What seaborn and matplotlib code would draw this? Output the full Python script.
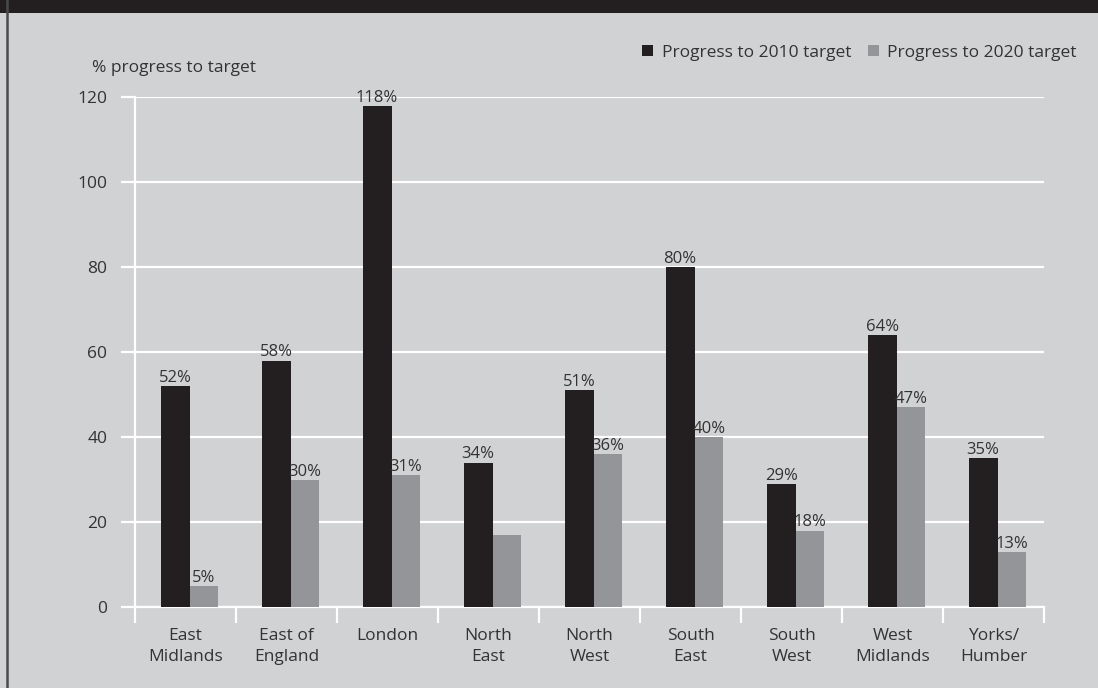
import matplotlib
matplotlib.use("Agg")
import matplotlib.pyplot as plt
from matplotlib.patches import Rectangle
from matplotlib.lines import Line2D
import pandas as pd
import seaborn as sns

regions = ["East\nMidlands", "East of\nEngland", "London", "North\nEast", "North\nWest",
           "South\nEast", "South\nWest", "West\nMidlands", "Yorks/\nHumber"]
progress_2010 = [52, 58, 118, 34, 51, 80, 29, 64, 35]
progress_2020 = [5, 30, 31, 17, 36, 40, 18, 47, 13]
# North East 2020 value is shown without a label
show_2020_label = [True, True, True, False, True, True, True, True, True]
series_names = ["Progress to 2010 target", "Progress to 2020 target"]
y_ticks = [0, 20, 40, 60, 80, 100, 120]

BG = "#d1d2d4"
DARK = "#231f20"
GREY = "#939598"
TEXT = "#333333"
FS = 12.5

sns.set_theme(style="white")
plt.rcParams["font.family"] = ["Open Sans", "DejaVu Sans"]

df = pd.DataFrame({
    "region": regions * 2,
    "value": progress_2010 + progress_2020,
    "series": [series_names[0]] * len(regions) + [series_names[1]] * len(regions),
})

fig = plt.figure(figsize=(10.98, 6.88), dpi=100)
fig.patch.set_facecolor(BG)
W, H = 1098, 688

# top band and left rule
fig.add_artist(Rectangle((0, 1 - 13 / H), 1, 13 / H, transform=fig.transFigure,
                         facecolor=DARK, edgecolor="none", zorder=5))
fig.add_artist(Line2D([6.5 / W, 6.5 / W], [0, 1], transform=fig.transFigure,
                      color="#4a4a4a", linewidth=1.8, zorder=5))

ax = fig.add_axes([135 / W, 81 / H, (1044 - 135) / W, (607 - 97) / H])
ax.set_facecolor(BG)

sns.barplot(data=df, x="region", y="value", hue="series",
            palette=[DARK, GREY], width=0.57, gap=0, saturation=1,
            legend=False, ax=ax, zorder=3, edgecolor="none", linewidth=0)

# bars sit slightly right of each category's centre
shift = 0.04
n = len(regions)
ax.set_ylim(0, 120)
ax.set_xlim(-0.5 - shift, n - 0.5 - shift)
ax.set_yticks(y_ticks)
ax.set_yticklabels([str(t) for t in y_ticks], fontsize=FS, color=TEXT)
ax.yaxis.grid(True, color="white", linewidth=1.6, zorder=0)
ax.set_axisbelow(True)

# category boundaries as tick marks, labels at centres
ax.set_xticks([i - shift for i in range(n)])
ax.set_xticklabels(regions, fontsize=FS, color=TEXT, linespacing=1.4)
ax.set_xticks([i - 0.5 - shift for i in range(n + 1)], minor=True)
ax.tick_params(axis="x", which="both", bottom=True)
ax.tick_params(axis="y", which="both", left=True)
ax.tick_params(axis="x", which="major", length=0, pad=15)
ax.tick_params(axis="x", which="minor", length=11.5, width=1.6, color="white", direction="out")
ax.tick_params(axis="y", which="major", length=10, width=1.6, color="white", direction="out", pad=10)

for side in ["top", "right"]:
    ax.spines[side].set_visible(False)
for side in ["left", "bottom"]:
    ax.spines[side].set_color("white")
    ax.spines[side].set_linewidth(1.6)

ax.set_xlabel("")
ax.set_ylabel("")

# value labels above the bars
c2010, c2020 = ax.containers[0], ax.containers[1]
ax.bar_label(c2010, labels=[f"{v}%" for v in progress_2010], padding=0,
             fontsize=FS - 0.5, color=TEXT, zorder=4)
ax.bar_label(c2020, labels=[f"{v}%" if s else "" for v, s in zip(progress_2020, show_2020_label)],
             padding=0, fontsize=FS - 0.5, color=TEXT, zorder=4)

fig.text(92 / W, 1 - 68 / H, "% progress to target", fontsize=FS, color=TEXT,
         ha="left", va="center")

handles = [Rectangle((0, 0), 1, 1, facecolor=DARK, edgecolor="none", linewidth=0),
           Rectangle((0, 0), 1, 1, facecolor=GREY, edgecolor="none", linewidth=0)]
leg = fig.legend(handles, series_names, loc="upper right", bbox_to_anchor=(1077 / W, 1 - 45 / H),
                 ncol=2, frameon=False, fontsize=FS, handlelength=0.6, handleheight=0.6,
                 handletextpad=0.5, columnspacing=1.0, borderaxespad=0, borderpad=0)
for t in leg.get_texts():
    t.set_color(TEXT)

fig.savefig("out.png", dpi=100, facecolor=BG)
